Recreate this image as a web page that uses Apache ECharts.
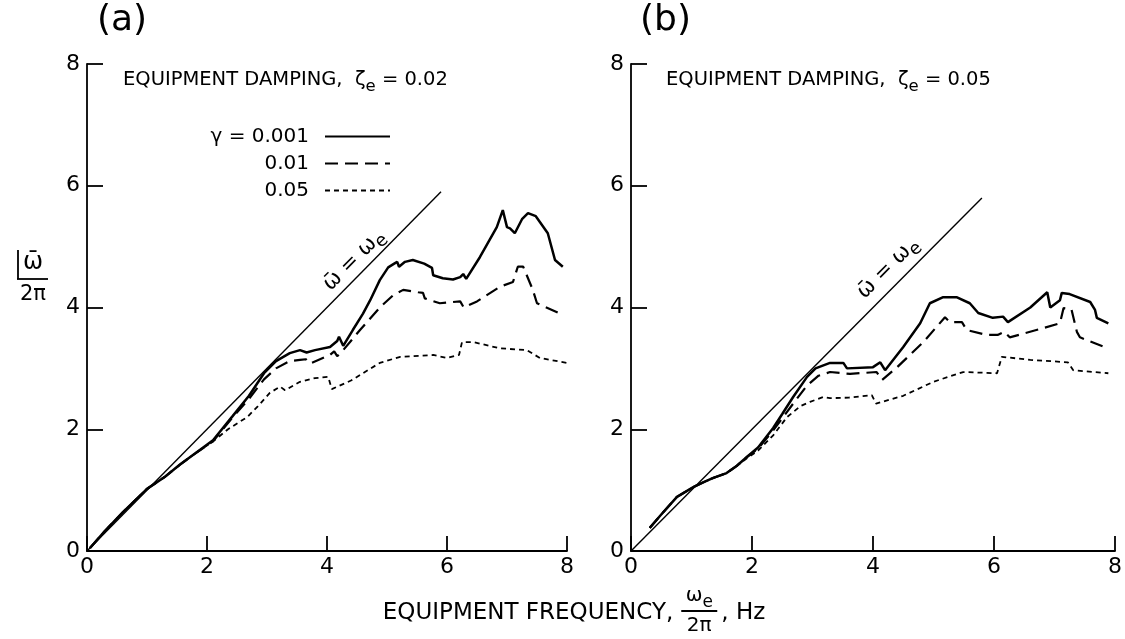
<!DOCTYPE html>
<html>
<head>
<meta charset="utf-8">
<script src="https://cdn.jsdelivr.net/npm/echarts@6/dist/echarts.min.js"></script>
<style>html,body{margin:0;padding:0;background:#fff}#chart{width:1125px;height:639px}</style>
</head>
<body>
<div id="chart"></div>
<script>
// ---------- data ----------
const xTicks = [0, 2, 4, 6, 8];
const yTicks = [0, 2, 4, 6, 8];
const seriesNames = ['γ = 0.001', '0.01', '0.05'];

// Panel (a): equipment damping 0.02
const a_g0001 = [[0.05,0.05],[0.3,0.33],[0.6,0.64],[1.0,1.02],[1.3,1.22],[1.55,1.42],[1.8,1.6],[2.1,1.82],[2.43,2.22],[2.7,2.55],[2.95,2.92],[3.15,3.12],[3.38,3.25],[3.55,3.3],[3.66,3.26],[3.8,3.3],[4.05,3.35],[4.17,3.45],[4.2,3.52],[4.27,3.37],[4.43,3.63],[4.6,3.9],[4.72,4.12],[4.88,4.45],[5.02,4.66],[5.12,4.72],[5.17,4.75],[5.2,4.67],[5.3,4.75],[5.43,4.78],[5.62,4.72],[5.75,4.65],[5.77,4.53],[5.93,4.48],[6.1,4.46],[6.22,4.5],[6.27,4.55],[6.32,4.47],[6.55,4.83],[6.83,5.32],[6.93,5.6],[7.0,5.32],[7.05,5.3],[7.13,5.22],[7.25,5.45],[7.35,5.55],[7.48,5.5],[7.68,5.22],[7.8,4.78],[7.93,4.67]];
const a_g001 = [[0.05,0.05],[0.3,0.33],[0.6,0.64],[1.0,1.02],[1.3,1.22],[1.55,1.42],[1.8,1.6],[2.1,1.8],[2.43,2.2],[2.7,2.5],[2.95,2.82],[3.15,3.0],[3.38,3.12],[3.55,3.14],[3.65,3.15],[3.72,3.08],[4.05,3.22],[4.12,3.28],[4.17,3.2],[4.27,3.3],[4.55,3.63],[4.88,4.0],[5.1,4.2],[5.27,4.29],[5.52,4.25],[5.6,4.24],[5.63,4.15],[5.88,4.07],[6.1,4.09],[6.22,4.1],[6.28,4.0],[6.5,4.1],[6.88,4.34],[7.1,4.42],[7.18,4.67],[7.27,4.67],[7.43,4.29],[7.5,4.07],[7.93,3.88]];
const a_g005 = [[0.05,0.05],[0.3,0.33],[0.6,0.64],[1.0,1.02],[1.3,1.22],[1.55,1.42],[1.8,1.6],[2.1,1.8],[2.35,2.0],[2.67,2.2],[2.85,2.38],[3.05,2.6],[3.22,2.7],[3.3,2.64],[3.55,2.78],[3.8,2.84],[4.02,2.86],[4.08,2.66],[4.4,2.8],[4.88,3.09],[5.22,3.19],[5.77,3.22],[6.0,3.17],[6.2,3.22],[6.25,3.43],[6.45,3.43],[6.88,3.33],[7.33,3.3],[7.55,3.17],[8.0,3.09]];
const a_diag = [[0,0],[5.9,5.9]];

// Panel (b): equipment damping 0.05
const b_g0001 = [[0.31,0.38],[0.5,0.6],[0.76,0.89],[1.03,1.05],[1.2,1.13],[1.36,1.2],[1.58,1.28],[1.75,1.4],[1.91,1.54],[2.1,1.7],[2.35,2.02],[2.5,2.25],[2.68,2.53],[2.91,2.86],[3.05,3.0],[3.18,3.05],[3.29,3.09],[3.51,3.09],[3.57,3.0],[4.0,3.02],[4.12,3.1],[4.2,2.97],[4.5,3.35],[4.78,3.74],[4.94,4.07],[5.16,4.17],[5.38,4.17],[5.6,4.07],[5.74,3.91],[5.98,3.83],[6.15,3.85],[6.23,3.76],[6.6,4.0],[6.88,4.25],[6.93,4.0],[7.09,4.12],[7.12,4.24],[7.25,4.22],[7.59,4.09],[7.67,3.96],[7.7,3.83],[7.89,3.74]];
const b_g001 = [[0.31,0.38],[0.5,0.6],[0.76,0.89],[1.03,1.05],[1.2,1.13],[1.36,1.2],[1.58,1.28],[1.75,1.4],[1.91,1.54],[2.1,1.68],[2.35,1.98],[2.5,2.18],[2.68,2.42],[2.91,2.72],[3.1,2.88],[3.29,2.94],[3.62,2.91],[4.06,2.94],[4.15,2.81],[4.4,3.02],[4.83,3.43],[5.19,3.84],[5.27,3.76],[5.47,3.76],[5.55,3.63],[5.88,3.55],[6.06,3.55],[6.17,3.6],[6.26,3.51],[6.81,3.66],[7.09,3.74],[7.15,3.99],[7.28,3.97],[7.37,3.6],[7.42,3.51],[7.83,3.35]];
const b_g005 = [[0.31,0.38],[0.5,0.6],[0.76,0.89],[1.03,1.05],[1.2,1.13],[1.36,1.2],[1.58,1.28],[1.75,1.4],[1.91,1.52],[2.1,1.65],[2.35,1.9],[2.58,2.2],[2.8,2.38],[2.96,2.45],[3.18,2.53],[3.29,2.51],[3.6,2.52],[3.98,2.56],[4.05,2.42],[4.5,2.55],[5.0,2.78],[5.49,2.94],[6.05,2.92],[6.13,3.19],[6.6,3.14],[7.22,3.1],[7.31,2.97],[7.89,2.92]];
const b_diag = [[0,0],[5.8,5.8]];

// ---------- chart ----------
const FONT = '"DejaVu Sans", "Liberation Sans", sans-serif';
const chart = echarts.init(document.getElementById('chart'), null, {renderer: 'canvas'});

const ctx = document.createElement('canvas').getContext('2d');
function measure(t, size) { ctx.font = size + 'px ' + FONT; return ctx.measureText(t).width; }

function xAx(i) {
  return {
    type: 'value', gridIndex: i, min: xTicks[0], max: xTicks[xTicks.length-1], interval: 2,
    axisLine: {lineStyle: {color: '#000', width: 1.8}},
    axisTick: {inside: true, length: 15, lineStyle: {color: '#000', width: 1.8}},
    axisLabel: {color: '#000', fontSize: 22, margin: 5, fontFamily: FONT},
    splitLine: {show: false}
  };
}
function yAx(i) {
  return {
    type: 'value', gridIndex: i, min: yTicks[0], max: yTicks[yTicks.length-1], interval: 2,
    axisLine: {lineStyle: {color: '#000', width: 1.8}},
    axisTick: {inside: true, length: 16, lineStyle: {color: '#000', width: 1.8}},
    axisLabel: {color: '#000', fontSize: 22, margin: 7, fontFamily: FONT},
    splitLine: {show: false}
  };
}
function ln(name, data, i, type, width) {
  return {
    name: name, type: 'line', data: data, xAxisIndex: i, yAxisIndex: i,
    symbol: 'none', showSymbol: false, smooth: false, animation: false,
    itemStyle: {color: '#000'},
    lineStyle: {color: '#000', width: width, type: type}
  };
}
const SOLID = 'solid', DASH = [13, 7], DOT = [5, 4];

function subText(main, sub, after, size) {
  return {
    text: '{n|' + main + '}{s|' + sub + '}{n|' + (after || '') + '}',
    rich: {
      n: {fontSize: size, lineHeight: size + 10, verticalAlign: 'middle', fontFamily: FONT, fill: '#000'},
      s: {fontSize: size - 3, lineHeight: size - 3, verticalAlign: 'bottom', fontFamily: FONT, fill: '#000'}
    }
  };
}

// legend layout
const LEG_SIZE = 20;
const LEG_TEXT_LEFT = 190, LEG_LINE_LEFT = 320, LEG_LINE_W = 65, LEG_PAD = 11;

const option = {
  backgroundColor: '#fff',
  animation: false,
  grid: [
    {left: 87, top: 64, width: 480, height: 487},
    {left: 631, top: 64, width: 484, height: 487}
  ],
  xAxis: [xAx(0), xAx(1)],
  yAxis: [yAx(0), yAx(1)],
  legend: {
    data: seriesNames, orient: 'vertical', left: LEG_TEXT_LEFT, top: 120,
    itemGap: 4, itemWidth: LEG_LINE_W, itemHeight: 14, align: 'right', selectedMode: false,
    itemStyle: {opacity: 0},
    textStyle: {
      color: '#000', fontSize: LEG_SIZE, fontFamily: FONT, lineHeight: 23,
      width: LEG_LINE_LEFT - 5 - LEG_PAD - LEG_TEXT_LEFT, padding: [0, LEG_PAD, 0, 0]
    }
  },
  series: [
    ln(seriesNames[0], a_g0001, 0, SOLID, 2.5),
    ln(seriesNames[1], a_g001, 0, DASH, 2.2),
    ln(seriesNames[2], a_g005, 0, DOT, 1.8),
    ln('diag-a', a_diag, 0, SOLID, 1.4),
    ln(seriesNames[0], b_g0001, 1, SOLID, 2.5),
    ln(seriesNames[1], b_g001, 1, DASH, 2.2),
    ln(seriesNames[2], b_g005, 1, DOT, 1.8),
    ln('diag-b', b_diag, 1, SOLID, 1.4)
  ],
  graphic: []
};

const g = option.graphic;
// panel labels
g.push({type: 'text', left: 97, top: 3, style: {text: '(a)', font: '36px ' + FONT, fill: '#000'}});
g.push({type: 'text', left: 640, top: 3, style: {text: '(b)', font: '36px ' + FONT, fill: '#000'}});
// damping annotations
g.push({type: 'text', x: 123, y: 80, style: Object.assign({verticalAlign: 'middle', align: 'left'}, subText('EQUIPMENT DAMPING,  ζ', 'e', ' = 0.02', 19.5))});
g.push({type: 'text', x: 666, y: 80, style: Object.assign({verticalAlign: 'middle', align: 'left'}, subText('EQUIPMENT DAMPING,  ζ', 'e', ' = 0.05', 19.5))});
// diagonal labels
const dl = subText('ω̄ = ω', 'e', '', 21);
g.push({type: 'text', x: 354, y: 260, rotation: Math.PI / 4, style: Object.assign({align: 'center', verticalAlign: 'middle'}, dl)});
g.push({type: 'text', x: 888, y: 268, rotation: Math.PI / 4, style: Object.assign({align: 'center', verticalAlign: 'middle'}, dl)});
// y-axis title (fraction)
g.push({type: 'text', x: 33, y: 263, style: {text: 'ω̄', font: '24px ' + FONT, fill: '#000', align: 'center', verticalAlign: 'middle'}});
g.push({type: 'line', shape: {x1: 17, y1: 279, x2: 48, y2: 279}, style: {stroke: '#000', lineWidth: 1.8}});
g.push({type: 'line', shape: {x1: 18, y1: 250, x2: 18, y2: 279}, style: {stroke: '#000', lineWidth: 1.8}});
g.push({type: 'text', x: 33, y: 295, style: {text: '2π', font: '21px ' + FONT, fill: '#000', align: 'center', verticalAlign: 'middle'}});
// x-axis title
const TS = 23;
const t1 = 'EQUIPMENT FREQUENCY,';
const w1 = measure(t1, TS);
const t2 = ', Hz';
const w2 = measure(t2, TS);
const FW = 36;
const total = w1 + 8 + FW + 6 + w2;
const X0 = 575 - total / 2, YT = 613;
const fracX = X0 + w1 + 8 + FW / 2;
g.push({type: 'text', x: X0, y: YT, style: {text: t1, font: TS + 'px ' + FONT, fill: '#000', align: 'left', verticalAlign: 'middle'}});
g.push({type: 'text', x: fracX, y: 596, style: Object.assign({align: 'center', verticalAlign: 'middle'}, subText('ω', 'e', '', 20))});
g.push({type: 'line', shape: {x1: fracX - FW / 2, y1: 611, x2: fracX + FW / 2, y2: 611}, style: {stroke: '#000', lineWidth: 1.8}});
g.push({type: 'text', x: fracX, y: 626, style: {text: '2π', font: '20px ' + FONT, fill: '#000', align: 'center', verticalAlign: 'middle'}});
g.push({type: 'text', x: fracX + FW / 2 + 4, y: YT, style: {text: t2, font: TS + 'px ' + FONT, fill: '#000', align: 'left', verticalAlign: 'middle'}});

chart.setOption(option);
</script>
</body>
</html>
